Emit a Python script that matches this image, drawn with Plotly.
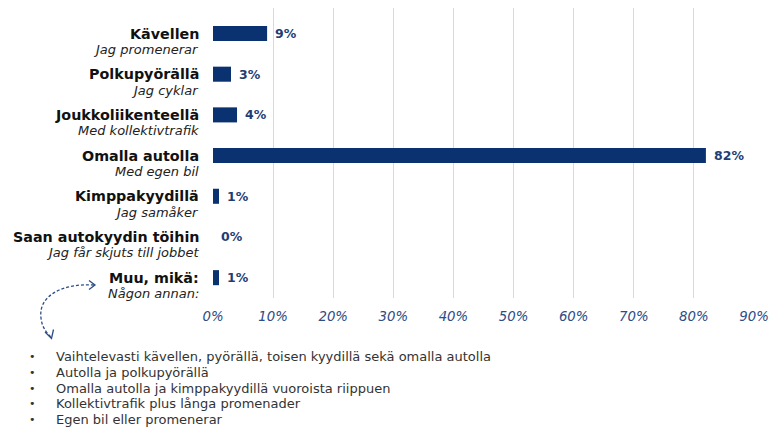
import plotly.graph_objects as go

# ---- data ----
categories_fi = ["Kävellen", "Polkupyörällä", "Joukkoliikenteellä", "Omalla autolla",
                 "Kimppakyydillä", "Saan autokyydin töihin", "Muu, mikä:"]
categories_sv = ["Jag promenerar", "Jag cyklar", "Med kollektivtrafik", "Med egen bil",
                 "Jag samåker", "Jag får skjuts till jobbet", "Någon annan:"]
values = [9, 3, 4, 82, 1, 0, 1]
x_ticks = [0, 10, 20, 30, 40, 50, 60, 70, 80, 90]
x_tick_labels = ["0%", "10%", "20%", "30%", "40%", "50%", "60%", "70%", "80%", "90%"]
other_answers = [
    "Vaihtelevasti kävellen, pyörällä, toisen kyydillä sekä omalla autolla",
    "Autolla ja polkupyörällä",
    "Omalla autolla ja kimppakyydillä vuoroista riippuen",
    "Kollektivtrafik plus långa promenader",
    "Egen bil eller promenerar",
]

# ---- layout constants ----
W, H = 769, 427
L, R, T, B = 213, 15, 8, 129
PW, PH = W - L - R, H - T - B
FONT = "DejaVu Sans"
BAR = "#0B3270"
NAVY = "#1F3D73"
TICK = "#2E4C85"


def px(x):
    return (x - L) / PW


def py(y):
    return (H - B - y) / PH


fig = go.Figure()
fig.add_trace(go.Bar(
    x=values, y=categories_fi, orientation="h",
    marker=dict(color=BAR, line=dict(width=0)),
    width=0.37, hoverinfo="skip",
))

annotations = []
for fi, sv, v in zip(categories_fi, categories_sv, values):
    annotations.append(dict(
        x=0, xref="paper", y=fi, yref="y", xanchor="right", yanchor="middle",
        xshift=-12, yshift=0, showarrow=False,
        text=f"<b>{fi}</b>", font=dict(family=FONT, size=14.3, color="#111111"),
    ))
    annotations.append(dict(
        x=0, xref="paper", y=fi, yref="y", xanchor="right", yanchor="middle",
        xshift=-12, yshift=-16, showarrow=False,
        text=f"<i>{sv}</i>", font=dict(family=FONT, size=13, color="#222222"),
    ))
    annotations.append(dict(
        x=v, xref="x", y=fi, yref="y", xanchor="left", yanchor="middle",
        xshift=6, showarrow=False,
        text=f"<b>{v}%</b>", font=dict(family=FONT, size=12.5, color=NAVY),
    ))

line_y = [356, 372, 388, 403, 419]
for txt, yy in zip(other_answers, line_y):
    annotations.append(dict(
        x=px(27), xref="paper", y=py(yy), yref="paper", xanchor="left", yanchor="middle",
        showarrow=False, text="•", font=dict(family=FONT, size=11, color="#333333"),
    ))
    annotations.append(dict(
        x=px(54), xref="paper", y=py(yy), yref="paper", xanchor="left", yanchor="middle",
        showarrow=False, text=txt, font=dict(family=FONT, size=13, color="#333333"),
    ))

arrow_line = dict(color=TICK, width=1.3, dash="3px,2px")
curve = (f"M {px(94)},{py(285)} C {px(62)},{py(283)} {px(38)},{py(296)} {px(41)},{py(318)} "
         f"C {px(42)},{py(328)} {px(47)},{py(333)} {px(51)},{py(337)}")
head1 = f"M {px(89)},{py(280.5)} L {px(95)},{py(285)} L {px(89)},{py(289.5)}"
head2 = f"M {px(45)},{py(332)} L {px(51.5)},{py(338.5)} L {px(53.5)},{py(329.5)}"
shapes = [
    dict(type="path", xref="paper", yref="paper", path=curve, line=arrow_line),
    dict(type="path", xref="paper", yref="paper", path=head1, line=dict(color=TICK, width=1.3)),
    dict(type="path", xref="paper", yref="paper", path=head2, line=dict(color=TICK, width=1.3)),
]

fig.update_layout(
    width=W, height=H, autosize=False,
    margin=dict(l=L, r=R, t=T, b=B, pad=0, autoexpand=False),
    paper_bgcolor="white", plot_bgcolor="white",
    showlegend=False,
    annotations=annotations, shapes=shapes,
    xaxis=dict(
        range=[0, 90], tickvals=x_ticks, ticktext=[f"<i>{t}</i>" for t in x_tick_labels],
        showgrid=True, gridcolor="#D9D9D9", gridwidth=1.3,
        zeroline=False, showline=False, ticks="",
        tickfont=dict(family=FONT, size=13.3, color=TICK),
        ticklabelstandoff=9, ticklabeloverflow="allow", automargin=False,
    ),
    yaxis=dict(
        categoryorder="array", categoryarray=categories_fi, autorange="reversed",
        showticklabels=False, showgrid=False, zeroline=False, showline=False, ticks="",
        automargin=False,
    ),
    font=dict(family=FONT),
)

fig.write_html(
    "out.html",
    config={"displayModeBar": False},
    post_script="document.body.style.margin='0';document.body.style.overflow='hidden';",
)
